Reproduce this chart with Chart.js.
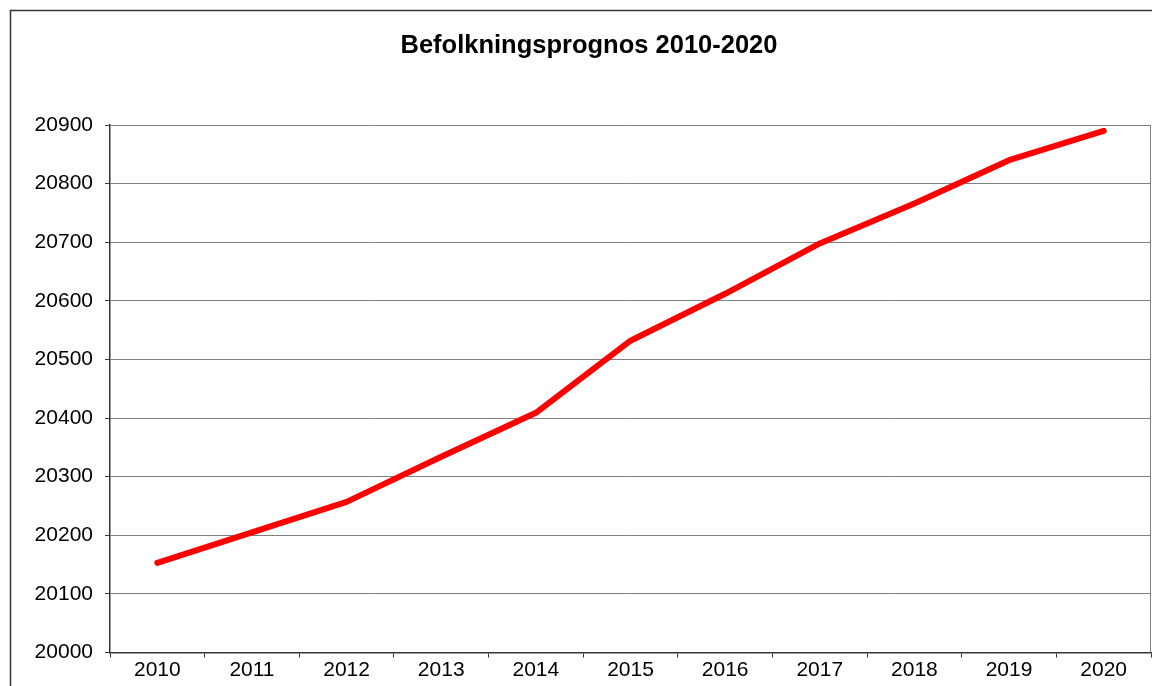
<!DOCTYPE html>
<html>
<head>
<meta charset="utf-8">
<title>Befolkningsprognos 2010-2020</title>
<script src="https://cdn.jsdelivr.net/npm/chart.js@4/dist/chart.umd.min.js"></script>
<style>
  body { margin: 0; background: #fff; }
  canvas { display: block; }
</style>
</head>
<body>
<canvas id="myChart" width="1152" height="686"></canvas>
<script>
var years = ["2010", "2011", "2012", "2013", "2014", "2015", "2016", "2017", "2018", "2019", "2020"];
var population = [20153, 20205, 20257, 20334, 20409, 20532, 20612, 20698, 20766, 20840, 20890];
var yMin = 20000;
var yMax = 20900;
var yStep = 100;

// outer frame of the chart object + right edge of the plot area
var frame = {
  id: 'frame',
  beforeDraw: function(chart) {
    var c = chart.ctx;
    c.save();
    c.strokeStyle = "#333333";
    c.lineWidth = 1.5;
    c.strokeRect(10.5, 10.5, 2000, 2000);
    c.restore();
  },
  beforeDatasetsDraw: function(chart) {
    var a = chart.chartArea;
    var c = chart.ctx;
    c.save();
    c.strokeStyle = "#808080";
    c.lineWidth = 1;
    c.beginPath();
    c.moveTo(a.right - 0.5, a.top);
    c.lineTo(a.right - 0.5, a.bottom);
    c.stroke();
    c.restore();
  }
};

var ctx = document.getElementById("myChart");
var myChart = new Chart(ctx, {
  type: 'line',
  data: {
    labels: years,
    datasets: [{
      data: population,
      borderColor: "#FF0000",
      borderWidth: 6,
      borderCapStyle: 'round',
      borderJoinStyle: 'round',
      pointRadius: 0,
      tension: 0,
      fill: false
    }]
  },
  options: {
    responsive: false,
    animation: false,
    layout: {
      padding: { left: 27, right: 1, top: 0, bottom: 0 }
    },
    plugins: {
      legend: { display: false },
      tooltip: { enabled: false },
      title: {
        display: true,
        text: 'Befolkningsprognos 2010-2020',
        color: "#000",
        font: { family: "'Liberation Sans', Arial, sans-serif", size: 25.5, weight: 'bold' },
        padding: { top: 31, bottom: 63.4 }
      }
    },
    scales: {
      x: {
        offset: true,
        grid: {
          offset: true,
          drawOnChartArea: false,
          tickLength: 5,
          tickColor: "#333333"
        },
        border: { color: "#333333", width: 1.5 },
        ticks: {
          color: "#000",
          padding: 0,
          maxRotation: 0,
          font: { family: "'Liberation Sans', Arial, sans-serif", size: 21 }
        },
        afterFit: function(scale) { scale.height = 33.5; }
      },
      y: {
        min: yMin,
        max: yMax,
        grid: {
          color: "#808080",
          tickLength: 5,
          tickColor: "#333333"
        },
        border: { color: "#333333", width: 1.5 },
        ticks: {
          stepSize: yStep,
          color: "#000",
          padding: 12,
          font: { family: "'Liberation Sans', Arial, sans-serif", size: 21 },
          callback: function(value) { return String(value); }
        },
        afterFit: function(scale) { scale.width = 83; }
      }
    }
  },
  plugins: [frame]
});
</script>
</body>
</html>
